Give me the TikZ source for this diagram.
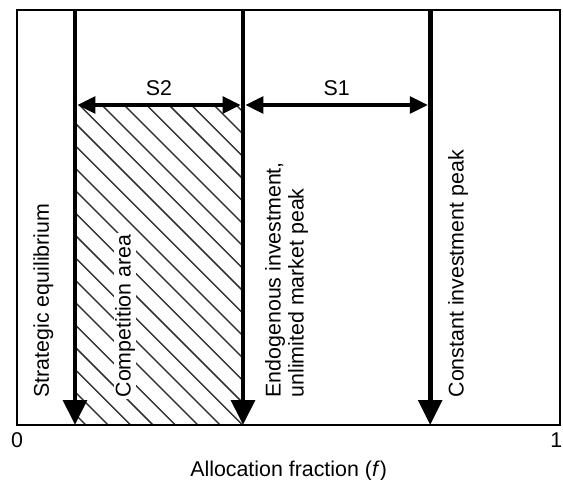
\documentclass[tikz,border=0pt]{standalone}
\usepackage{fontspec}
\setmainfont{Liberation Sans}
\usepackage{tikz}
\usetikzlibrary{arrows.meta}

\begin{document}
\begin{tikzpicture}[
        font=\fontsize{15.2}{16.4}\selectfont,
        plotbox/.style={draw=black, line width=0.9pt},
        peak/.style={line width=3.35pt, -{Triangle[length=0.625cm, width=0.585cm]}},
        spanarrow/.style={line width=2.3pt, {Triangle[length=0.45cm, width=0.42cm]}-{Triangle[length=0.45cm, width=0.42cm]}, shorten <=1.7pt, shorten >=1.7pt},
        hatch/.style={draw=black!80, line width=1.05pt},
        vlabel/.style={rotate=90, anchor=west, inner sep=1pt, align=left}
    ]
        \useasboundingbox (-0.425,-1.375) rectangle (13.65,10.625);

        % Competition area (hatched)
        \begin{scope}
            \clip (1.45,0) rectangle (5.65,8);
            \foreach \k in {-16,...,7}
                \draw[hatch] ({2.12+(\k)*0.56},8) -- ++(8.5,-8.5);
        \end{scope}

        % Frame
        \draw[plotbox] (0,0) rectangle (13.575,10.375);

        % Peaks
        \coordinate (eqtop) at (1.45,10.375);
        \coordinate (eqbot) at (1.45,0);
        \coordinate (endtop) at (5.65,10.375);
        \coordinate (endbot) at (5.65,0);
        \coordinate (contop) at (10.33,10.375);
        \coordinate (conbot) at (10.33,0);
        \draw[peak] (eqtop) -- (eqbot);
        \draw[peak] (endtop) -- (endbot);
        \draw[peak] (contop) -- (conbot);

        % Spans
        \coordinate (eqmid) at (1.45,8);
        \coordinate (endmid) at (5.65,8);
        \coordinate (conmid) at (10.33,8);
        \draw[spanarrow] (eqmid) -- node[above=2pt] (s2) {S2} (endmid);
        \draw[spanarrow] (endmid) -- node[above=2pt] (s1) {S1} (conmid);

        % Labels
        \node[vlabel] (eq) at (0.66,0.65) {Strategic equilibrium};
        \node[vlabel, fill=white] (comp) at (2.7,0.65) {Competition area};
        \node[vlabel] (endo) at (6.74,0.65) {Endogenous investment,\\unlimited market peak};
        \node[vlabel] (const) at (11.025,0.65) {Constant investment peak};

        % Axis
        \node[anchor=base] (zero) at (0,-0.575) {0};
        \node[anchor=base] (one) at (13.48,-0.575) {1};
        \node[anchor=base] (xlab) at (6.79,-1.29) {Allocation fraction (\textit{f})};

    \end{tikzpicture}
\end{document}
